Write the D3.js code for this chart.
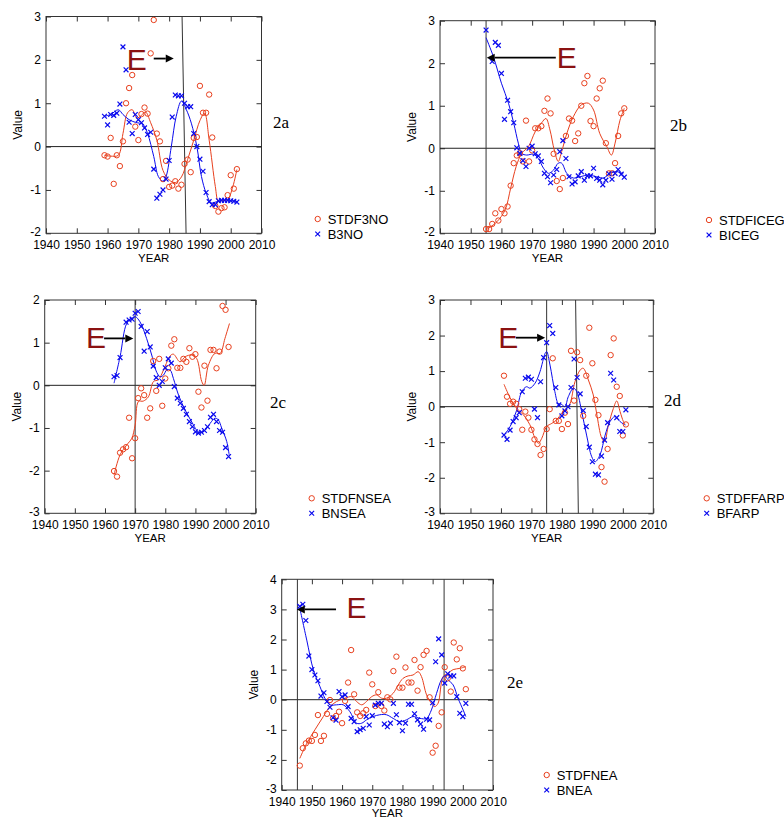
<!DOCTYPE html>
<html>
<head>
<meta charset="utf-8">
<script src="https://cdn.jsdelivr.net/npm/d3@7"></script>
<style>
	body { margin: 0; background: #fff; }
	svg { display: block; font-family: "Liberation Sans", Arial, sans-serif; }
	.tick text { font-size: 12px; fill: #000; }
	.tick line { stroke: #333; }
	.frame { fill: none; stroke: #333; stroke-width: 1; }
	.zero { stroke: #222; stroke-width: 1; }
	.ref { stroke: #333; stroke-width: 1; }
	.fit { fill: none; stroke-width: 1; }
	.label { font-size: 12px; fill: #000; }
	.legend { font-size: 13px; fill: #000; }
	.tag { font-family: "Liberation Serif", "Times New Roman", serif; font-size: 17px; fill: #000; }
	.big-e { font-size: 30px; fill: #8b1212; }
</style>
</head>
<body>
<div id="fig"></div>
<script>
var xTicks = [1940, 1950, 1960, 1970, 1980, 1990, 2000, 2010];

var yTicksA = [-2, -1, 0, 1, 2, 3];
var yTicksB = [-2, -1, 0, 1, 2, 3];
var yTicksC = [-3, -2, -1, 0, 1, 2];
var yTicksD = [-3, -2, -1, 0, 1, 2, 3];
var yTicksE = [-3, -2, -1, 0, 1, 2, 3, 4];

// 2a
var stdf3no = [[1959,-0.2],[1960,-0.23],[1961,0.2],[1962,-0.86],[1963,-0.2],[1964,-0.45],[1965,0.12],[1966,1.0],[1967,1.35],[1968,1.65],[1969,0.46],[1970,0.15],[1971,0.75],[1972,0.9],[1973,0.76],[1974,2.15],[1975,2.92],[1976,0.3],[1977,0.12],[1978,-0.75],[1979,-0.33],[1980,-0.93],[1981,-0.9],[1982,-0.8],[1983,-0.97],[1984,-0.88],[1985,-0.4],[1986,-0.3],[1987,-0.59],[1988,0.2],[1989,0.22],[1990,1.4],[1991,0.78],[1992,0.78],[1993,1.2],[1994,0.21],[1995,-1.37],[1996,-1.5],[1997,-1.42],[1998,-1.4],[1999,-1.12],[2000,-0.66],[2001,-0.97],[2002,-0.52]];
var b3no = [[1959,0.7],[1960,0.5],[1961,0.74],[1962,0.72],[1963,0.77],[1964,0.98],[1965,2.3],[1966,1.77],[1967,0.56],[1968,0.3],[1969,0.74],[1970,0.62],[1971,0.55],[1972,0.43],[1973,0.28],[1974,0.33],[1975,-0.52],[1976,-1.19],[1977,-1.1],[1978,-1.0],[1979,-0.75],[1980,-0.32],[1981,0.68],[1982,1.19],[1983,1.17],[1984,1.17],[1985,1.0],[1986,0.92],[1987,0.92],[1988,0.3],[1989,0.0],[1990,-0.29],[1991,-0.57],[1992,-1.06],[1993,-1.27],[1994,-1.34],[1995,-1.34],[1996,-1.25],[1997,-1.24],[1998,-1.24],[1999,-1.24],[2000,-1.25],[2001,-1.26],[2002,-1.28]];
var stdf3noFit = [[1959,-0.2],[1961,-0.22],[1963.5,-0.2],[1965,0.3],[1966.5,0.78],[1968,0.85],[1969.5,0.66],[1971,0.72],[1972.3,0.8],[1974,0.55],[1976,0.15],[1978,-0.55],[1980,-0.77],[1982,-0.83],[1984,-0.7],[1986,-0.3],[1988,0.15],[1990,0.6],[1991.5,0.77],[1993,0.15],[1995,-0.92],[1996,-1.27],[1997,-1.25],[1999,-1.22],[2000.7,-0.92],[2002,-0.53]];
var b3noFit = [[1959,0.7],[1961,0.74],[1963.5,0.85],[1965,0.74],[1967,0.62],[1969,0.56],[1971.5,0.51],[1973,0.3],[1975,-0.23],[1976.5,-0.69],[1978,-0.8],[1979,-0.69],[1980.7,0],[1982.3,0.7],[1984,1.05],[1985.6,0.85],[1987.2,0.54],[1989,0],[1990.5,-0.69],[1992,-1.07],[1993.7,-1.3],[1995.4,-1.27],[1997.5,-1.23],[2002,-1.27]];

// 2b
var stdficeg = [[1955,-1.9],[1956,-1.9],[1957,-1.78],[1958,-1.53],[1959,-1.7],[1960,-1.43],[1961,-1.53],[1962,-1.37],[1963,-0.88],[1964,-0.35],[1965,-0.17],[1966,-0.12],[1967,-0.31],[1968,0.65],[1969,-0.31],[1970,-0.05],[1971,0.47],[1972,0.47],[1973,0.52],[1974,0.88],[1975,1.17],[1976,0.82],[1977,-0.13],[1978,-0.77],[1979,-0.96],[1980,-0.7],[1981,0.29],[1982,0.7],[1983,0.65],[1984,0.17],[1985,0.35],[1986,1.0],[1987,1.53],[1988,1.7],[1989,0.64],[1990,0.52],[1991,1.17],[1992,1.41],[1993,1.59],[1994,0.12],[1995,-0.59],[1996,-0.59],[1997,-0.35],[1998,0.29],[1999,0.82],[2000,0.94]];
var biceg = [[1955,2.78],[1957,2.04],[1958,2.49],[1959,2.42],[1960,1.76],[1961,0.68],[1962,1.13],[1963,0.86],[1964,0.6],[1965,0.01],[1966,-0.12],[1967,-0.29],[1968,-0.43],[1969,0.0],[1970,0.05],[1971,-0.13],[1972,-0.18],[1973,-0.31],[1974,-0.59],[1975,-0.67],[1976,-0.81],[1977,-0.63],[1978,-0.5],[1979,-0.08],[1980,0.18],[1981,-0.24],[1982,-0.67],[1983,-0.84],[1984,-0.79],[1985,-0.65],[1986,-0.55],[1987,-0.75],[1988,-0.65],[1989,-0.65],[1990,-0.47],[1991,-0.71],[1992,-0.75],[1993,-0.86],[1994,-0.75],[1995,-0.6],[1996,-0.73],[1997,-0.59],[1998,-0.5],[1999,-0.61],[2000,-0.68]];
var stdficegFit = [[1955,-1.92],[1958.5,-1.73],[1961.2,-1.45],[1963,-0.94],[1964.8,-0.43],[1966.6,-0.12],[1968.8,0.04],[1971,0.39],[1973,0.59],[1974.5,0.7],[1975.8,0.43],[1977.2,-0.04],[1978.5,-0.31],[1979.6,-0.08],[1981.3,0.35],[1983.4,0.74],[1986,1.02],[1988.3,1.06],[1990,0.9],[1992,0.35],[1994.3,0.04],[1995.8,-0.16],[1997,0.12],[1998.6,0.66],[2000,0.94]];
var bicegFit = [[1955,2.6],[1957.4,2.15],[1960,1.53],[1962.3,1.06],[1964,0.59],[1965.5,0.12],[1966.6,-0.12],[1968.2,-0.16],[1970.4,-0.14],[1972,-0.24],[1973.7,-0.47],[1975.3,-0.59],[1977,-0.51],[1978.5,-0.35],[1979.6,-0.35],[1981.3,-0.59],[1983.4,-0.7],[1985.6,-0.67],[1988.3,-0.63],[1991,-0.67],[1993.2,-0.7],[1995.4,-0.59],[1997.5,-0.55],[1999.7,-0.6]];

// 2c
var stdfnsea = [[1963,-2.01],[1964,-2.14],[1965,-1.58],[1966,-1.5],[1967,-1.45],[1968,-0.76],[1969,-1.71],[1970,-1.24],[1971,-0.3],[1972,-0.07],[1973,-0.23],[1974,-0.76],[1975,-0.54],[1976,0.57],[1977,-0.13],[1978,0.62],[1979,-0.48],[1980,0.16],[1981,0.4],[1982,0.93],[1983,1.08],[1984,0.41],[1985,0.41],[1986,0.62],[1987,0.55],[1988,0.87],[1989,0.67],[1990,0.73],[1991,-0.15],[1992,-0.52],[1993,0.46],[1994,-0.36],[1995,0.83],[1996,0.83],[1997,0.4],[1998,0.79],[1999,1.86],[2000,1.77],[2001,0.9]];
var bnsea = [[1963,0.2],[1964,0.23],[1965,0.65],[1967,1.48],[1968,1.53],[1969,1.55],[1970,1.69],[1971,1.73],[1972,1.38],[1973,0.8],[1974,1.26],[1975,0.9],[1976,0.45],[1977,0.18],[1978,0.0],[1979,0.09],[1980,0.41],[1981,0.62],[1982,0.52],[1983,-0.03],[1984,-0.3],[1985,-0.42],[1986,-0.54],[1987,-0.68],[1988,-0.85],[1989,-0.97],[1990,-1.09],[1991,-1.12],[1992,-1.1],[1993,-1.06],[1994,-0.97],[1995,-0.75],[1996,-0.68],[1997,-0.85],[1998,-1.06],[1999,-1.1],[2000,-1.46],[2001,-1.67]];
var stdfnseaFit = [[1963,-2.1],[1965,-1.63],[1967.2,-1.4],[1968.9,-1.24],[1970,-0.93],[1971.1,-0.38],[1972.7,-0.37],[1974.4,-0.27],[1976.1,0.09],[1977.7,0.13],[1979.9,0.44],[1981.6,0.69],[1982.7,0.73],[1984.9,0.55],[1986.6,0.67],[1988.8,0.71],[1990.4,0.63],[1992.1,0.09],[1992.9,0.0],[1994.3,0.47],[1996.5,0.75],[1998.2,0.75],[1999.8,1.1],[2001.3,1.45]];
var bnseaFit = [[1963,0.05],[1965,0.67],[1967.2,1.45],[1968.9,1.57],[1970,1.61],[1971.6,1.49],[1973.8,1.1],[1975.5,0.71],[1977.2,0.3],[1978.3,0.2],[1979.4,0.24],[1980.5,0.36],[1981.6,0.36],[1982.7,0.16],[1984.4,-0.23],[1986.6,-0.58],[1988.8,-0.86],[1990.4,-1.05],[1991.5,-1.11],[1993.2,-1.05],[1994.9,-0.89],[1996.5,-0.77],[1997.6,-0.81],[1998.7,-1.0],[2000.4,-1.32],[2001.2,-1.63]];

// 2d
var stdffarp = [[1961,0.87],[1962,0.28],[1963,0.08],[1964,0.14],[1965,0.08],[1966,-0.07],[1967,-0.65],[1968,-0.14],[1969,-0.31],[1970,-0.65],[1971,-0.92],[1972,-1.05],[1973,-1.36],[1974,-1.19],[1975,-0.63],[1976,-0.07],[1977,1.36],[1978,-0.4],[1979,-0.4],[1980,-0.63],[1981,-0.17],[1982,-0.49],[1983,1.57],[1984,0.17],[1985,1.53],[1986,1.31],[1987,-0.26],[1988,0.87],[1989,2.22],[1990,1.22],[1991,0.19],[1992,-0.24],[1993,-1.7],[1994,-2.11],[1995,-1.19],[1996,1.45],[1997,1.92],[1998,0.56],[1999,0.3],[2000,-0.81],[2001,-0.5]];
var bfarp = [[1961,-0.8],[1962,-0.92],[1963,-0.66],[1964,-0.42],[1965,-0.31],[1966,-0.17],[1967,0.42],[1968,0.8],[1969,0.83],[1970,0.77],[1971,-0.07],[1972,-0.31],[1973,0.7],[1974,1.38],[1975,1.8],[1976,2.28],[1977,2.06],[1978,0.54],[1979,0.05],[1980,-0.26],[1981,-0.12],[1982,0.0],[1983,0.54],[1984,1.34],[1985,0.82],[1986,0.36],[1987,-0.11],[1988,-0.56],[1989,-1.14],[1990,-1.55],[1991,-1.9],[1992,-1.92],[1993,-1.39],[1994,-0.94],[1995,-0.45],[1996,0.94],[1997,0.75],[1998,-0.31],[1999,-0.7],[2000,-0.7],[2001,-0.09]];
var stdffarpFit = [[1961,0.63],[1963,0.25],[1965.2,-0.05],[1967.4,-0.23],[1969.5,-0.51],[1971.2,-0.89],[1972.3,-1.03],[1973.4,-0.89],[1975,-0.56],[1976.7,-0.47],[1978.3,-0.37],[1979.9,-0.19],[1981.6,-0.05],[1982.7,0.09],[1984.3,0.7],[1986,1.03],[1987,1.08],[1988.7,0.75],[1990.3,0.33],[1991.4,-0.19],[1993.1,-0.89],[1994,-0.98],[1995.3,-0.51],[1996.9,-0.05],[1998,0.16],[1999.1,-0.14],[2000.2,-0.42],[2000.8,-0.5]];
var bfarpFit = [[1961,-0.8],[1963,-0.56],[1965.2,-0.09],[1966.8,0.42],[1968.4,0.56],[1969.5,0.52],[1971.2,0.66],[1972.8,0.98],[1974.5,1.5],[1975,1.55],[1976.1,1.17],[1977.7,0.42],[1978.8,0.09],[1979.9,0.06],[1981,0.0],[1982.1,0.28],[1983.8,0.52],[1984.9,0.42],[1986.5,-0.14],[1988.1,-0.8],[1989.8,-1.41],[1990.9,-1.55],[1992.5,-1.36],[1994.2,-0.8],[1995.8,-0.42],[1997.4,-0.28],[1999.1,-0.42],[2000.8,-0.52]];

// 2e
var stdfnea = [[1946,-2.19],[1947,-1.61],[1948,-1.45],[1949,-1.36],[1950,-1.37],[1951,-1.17],[1952,-0.51],[1953,-1.37],[1954,-1.2],[1955,-0.47],[1956,-0.01],[1957,-0.62],[1958,-0.54],[1959,-0.4],[1960,-0.78],[1961,-0.04],[1962,0.57],[1963,1.65],[1964,0.18],[1965,-0.42],[1966,-0.54],[1967,-0.45],[1968,-0.34],[1969,0.9],[1970,0.51],[1971,-0.21],[1972,0.25],[1973,-0.21],[1974,-0.36],[1975,0.08],[1976,0.01],[1977,0.95],[1978,1.43],[1979,0.4],[1980,0.4],[1981,1.07],[1982,0.57],[1983,0.57],[1984,1.32],[1985,0.3],[1986,1.08],[1987,1.49],[1988,1.62],[1989,0.08],[1990,-1.76],[1991,-1.53],[1992,-0.87],[1993,-0.42],[1994,1.08],[1995,0.71],[1996,0.27],[1997,1.9],[1998,1.34],[1999,1.71],[2000,1.04],[2001,0.35]];
var bnea = [[1946,3.1],[1947,3.17],[1948,2.63],[1949,1.45],[1950,1.0],[1951,0.82],[1952,0.63],[1953,0.12],[1954,0.23],[1955,-0.06],[1956,-0.25],[1957,-0.6],[1958,-0.68],[1959,0.27],[1960,0.1],[1961,0.16],[1962,-0.23],[1963,-0.62],[1964,-0.73],[1965,-1.06],[1966,-1.0],[1967,-0.95],[1968,-0.56],[1969,-0.84],[1970,-0.53],[1971,-0.18],[1972,-0.12],[1973,-0.12],[1974,-0.81],[1975,-0.9],[1976,-0.78],[1977,-0.12],[1978,-0.5],[1979,-0.76],[1980,-1.03],[1981,-0.78],[1982,-0.15],[1983,-0.15],[1984,-0.47],[1985,-0.67],[1986,-0.81],[1987,-0.98],[1988,-0.65],[1989,-0.67],[1990,-0.1],[1991,1.26],[1992,2.02],[1993,1.49],[1994,0.55],[1995,0.86],[1996,0.79],[1997,0.79],[1998,0.1],[1999,-0.45],[2000,-0.56],[2001,-0.12]];
var stdfneaFit = [[1946,-1.95],[1948.3,-1.45],[1951,-1.0],[1953.8,-0.56],[1956,-0.23],[1958.2,-0.06],[1961,0.05],[1963.2,0.1],[1964.8,-0.06],[1966.5,-0.17],[1968.1,-0.06],[1969.8,0.1],[1971.4,0.16],[1973.1,0.05],[1974.7,0.05],[1976.9,0.21],[1978.6,0.49],[1980.2,0.71],[1981.9,0.79],[1983.5,0.82],[1985.2,0.93],[1986.3,0.77],[1988,0.16],[1989.6,-0.12],[1990.7,-0.23],[1991.8,-0.12],[1993.5,0.77],[1995.1,0.88],[1996.8,1.0],[1999,1.04],[2001,1.1]];
var bneaFit = [[1946,3.04],[1948.3,1.98],[1950.5,0.99],[1952.7,0.43],[1954.3,0.05],[1956,-0.17],[1958.2,-0.17],[1960.4,-0.17],[1962.6,-0.4],[1964.8,-0.78],[1966.5,-0.78],[1968.1,-0.67],[1970.3,-0.56],[1972.5,-0.5],[1974.7,-0.5],[1976.9,-0.62],[1979.1,-0.73],[1981.3,-0.67],[1983.5,-0.56],[1985.8,-0.62],[1988,-0.62],[1989.6,-0.34],[1991.3,0.21],[1992.9,0.66],[1994,0.79],[1995.1,0.66],[1996.8,0.49],[1998.4,0.05],[2000.1,-0.34],[2001,-0.56]];

var RED = "#e8401e";
var BLUE = "#0a0aee";

var Fig = {
	svg : null,

	Initialize : function(id) {
		this.svg = d3.select(id).append("svg")
					 .attr("width", 784)
					 .attr("height", 819);

		this.svg.append("rect").attr("width", 784).attr("height", 819).attr("fill", "#fff");
	},

	BuildPanel : function(p) {
		var g = this.svg.append("g");

		var x = d3.scaleLinear().domain([1940, 2010]).range([p.box[0], p.box[1]]);
		var y = d3.scaleLinear().domain(d3.extent(p.yTicks)).range([p.box[3], p.box[2]]);

		var fmt = function(d) { return String(d); };

		// ticks inward on all four sides
		g.append("g")
		 .attr("transform", "translate(0," + p.box[3] + ")")
		 .call(d3.axisBottom(x).tickValues(xTicks).tickSize(-5).tickPadding(7).tickFormat(fmt));

		g.append("g")
		 .attr("transform", "translate(0," + p.box[2] + ")")
		 .call(d3.axisTop(x).tickValues(xTicks).tickSize(-5).tickFormat(""));

		var left = g.append("g")
		 .attr("transform", "translate(" + p.box[0] + ",0)")
		 .call(d3.axisLeft(y).tickValues(p.yTicks).tickSize(-5).tickPadding(5).tickFormat(fmt));

		// nudge the bottom value label a touch so it clears the first year label
		left.selectAll(".tick text").attr("dy", function(d, i) { return i == 0 ? "0.2em" : "0.32em"; });

		g.append("g")
		 .attr("transform", "translate(" + p.box[1] + ",0)")
		 .call(d3.axisRight(y).tickValues(p.yTicks).tickSize(-5).tickFormat(""));

		g.selectAll(".domain").remove();

		g.append("rect")
		 .attr("class", "frame")
		 .attr("x", p.box[0])
		 .attr("y", p.box[2])
		 .attr("width", p.box[1] - p.box[0])
		 .attr("height", p.box[3] - p.box[2]);

		g.append("line")
		 .attr("class", "zero")
		 .attr("x1", p.box[0]).attr("x2", p.box[1])
		 .attr("y1", y(0)).attr("y2", y(0));

		g.selectAll(".ref")
		 .data(p.refs)
		 .enter().append("line")
		 .attr("class", "ref")
		 .attr("x1", function(d) { return x(d[0]); })
		 .attr("x2", function(d) { return x(d[1]); })
		 .attr("y1", p.box[2])
		 .attr("y2", p.box[3]);

		// axis titles
		g.append("text")
		 .attr("class", "label")
		 .attr("text-anchor", "middle")
		 .attr("transform", "translate(" + (p.box[0] - 24) + "," + ((p.box[2] + p.box[3]) / 2) + ") rotate(-90)")
		 .text("Value");

		g.append("text")
		 .attr("class", "label")
		 .style("font-size", "11.5px")
		 .attr("text-anchor", "middle")
		 .attr("x", (p.box[0] + p.box[1]) / 2)
		 .attr("y", Math.min(p.box[3] + 29, 817))
		 .text("YEAR");

		// fitted curves
		var line = d3.line()
					 .x(function(d) { return x(d[0]); })
					 .y(function(d) { return y(d[1]); })
					 .curve(d3.curveCatmullRom.alpha(0.5));

		g.append("path").attr("class", "fit").attr("stroke", RED).attr("d", line(p.redFit));
		g.append("path").attr("class", "fit").attr("stroke", BLUE).attr("d", line(p.blueFit));

		// points
		g.selectAll(".pt-red")
		 .data(p.red)
		 .enter().append("circle")
		 .attr("class", "pt-red")
		 .attr("cx", function(d) { return x(d[0]); })
		 .attr("cy", function(d) { return y(d[1]); })
		 .attr("r", 2.7)
		 .attr("fill", "none")
		 .attr("stroke", RED)
		 .attr("stroke-width", 1);

		g.selectAll(".pt-blue")
		 .data(p.blue)
		 .enter().append("path")
		 .attr("class", "pt-blue")
		 .attr("transform", function(d) { return "translate(" + x(d[0]) + "," + y(d[1]) + ")"; })
		 .attr("d", Fig.cross)
		 .attr("stroke", BLUE)
		 .attr("stroke-width", 1.2);

		this.AddNote(g, p.note, x, y);

		g.append("text")
		 .attr("class", "tag")
		 .attr("x", p.tag[0])
		 .attr("y", p.tag[1])
		 .text(p.name);

		this.AddLegend(g, p.legend, p.keys);
	},

	cross : "M-2.4,-2.4L2.4,2.4M-2.4,2.4L2.4,-2.4",

	AddNote : function(g, note, x, y) {
		g.append("text")
		 .attr("class", "big-e")
		 .attr("x", x(note.at[0]))
		 .attr("y", y(note.at[1]))
		 .text("E");

		var x1 = x(note.from), x2 = x(note.to), yy = y(note.v);
		var dir = x2 > x1 ? 1 : -1;
		var head = 8;

		g.append("line")
		 .attr("x1", x1).attr("x2", x2 - dir * head)
		 .attr("y1", yy).attr("y2", yy)
		 .attr("stroke", "#000")
		 .attr("stroke-width", 1.8);

		g.append("path")
		 .attr("d", "M" + x2 + "," + yy + "L" + (x2 - dir * head) + "," + (yy - 4) + "L" + (x2 - dir * head) + "," + (yy + 4) + "Z")
		 .attr("fill", "#000");
	},

	AddLegend : function(g, pos, keys) {
		g.append("circle")
		 .attr("cx", pos[0]).attr("cy", pos[1])
		 .attr("r", 2.7)
		 .attr("fill", "none")
		 .attr("stroke", RED);

		g.append("text")
		 .attr("class", "legend")
		 .attr("x", pos[0] + 10)
		 .attr("y", pos[1] + 4.5)
		 .text(keys[0]);

		g.append("path")
		 .attr("transform", "translate(" + pos[0] + "," + (pos[1] + 15) + ")")
		 .attr("d", Fig.cross)
		 .attr("stroke", BLUE)
		 .attr("stroke-width", 1.2);

		g.append("text")
		 .attr("class", "legend")
		 .attr("x", pos[0] + 10)
		 .attr("y", pos[1] + 19.5)
		 .text(keys[1]);
	}
};

var panels = [
	{ name : "2a", box : [46, 261.5, 16.5, 233.3], yTicks : yTicksA,
	  red : stdf3no, blue : b3no, redFit : stdf3noFit, blueFit : b3noFit,
	  refs : [[1984.2, 1985.5]],
	  note : { at : [1966.2, 1.77], from : 1975, to : 1981.5, v : 2.03 },
	  tag : [273, 128], legend : [317.7, 219], keys : ["STDF3NO", "B3NO"] },
	{ name : "2b", box : [440, 655, 20.7, 233.3], yTicks : yTicksB,
	  red : stdficeg, blue : biceg, redFit : stdficegFit, blueFit : bicegFit,
	  refs : [[1955, 1955]],
	  note : { at : [1978, 1.88], from : 1977.7, to : 1955.2, v : 2.13 },
	  tag : [670, 131], legend : [709, 220], keys : ["STDFICEG", "BICEG"] },
	{ name : "2c", box : [44.7, 255.7, 300, 513.3], yTicks : yTicksC,
	  red : stdfnsea, blue : bnsea, redFit : stdfnseaFit, blueFit : bnseaFit,
	  refs : [[1970, 1970]],
	  note : { at : [1953.7, 0.87], from : 1959.7, to : 1969.4, v : 1.1 },
	  tag : [270, 408], legend : [311.7, 498.3], keys : ["STDFNSEA", "BNSEA"] },
	{ name : "2d", box : [440, 653.3, 300, 513.3], yTicks : yTicksD,
	  red : stdffarp, blue : bfarp, redFit : stdffarpFit, blueFit : bfarpFit,
	  refs : [[1975, 1975], [1984.5, 1985.4]],
	  note : { at : [1959.1, 1.64], from : 1964.9, to : 1974.5, v : 1.94 },
	  tag : [664, 405.7], legend : [706.7, 498.3], keys : ["STDFFARP", "BFARP"] },
	{ name : "2e", box : [281.7, 493, 579.3, 790], yTicks : yTicksE,
	  red : stdfnea, blue : bnea, redFit : stdfneaFit, blueFit : bneaFit,
	  refs : [[1945.2, 1945.2], [1993.8, 1993.8]],
	  note : { at : [1961.5, 2.7], from : 1958, to : 1945, v : 3.0 },
	  tag : [507, 688], legend : [546.7, 775], keys : ["STDFNEA", "BNEA"] }
];

Fig.Initialize("#fig");

for (var i = 0; i < panels.length; i++) {
	Fig.BuildPanel(panels[i]);
}
</script>
</body>
</html>
